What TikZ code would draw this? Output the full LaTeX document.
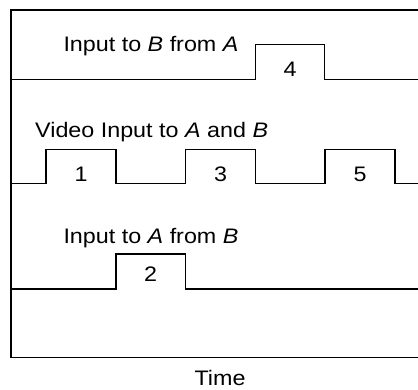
\documentclass[tikz,border=0pt]{standalone}
\usepackage{fontspec}
\setmainfont{Liberation Sans}
% lettering of the labels is slightly extended horizontally
\newcommand{\widetext}[1]{\scalebox{1.11}[1]{#1}}
\begin{document}
\begin{tikzpicture}[x=1pt,y=-1pt,
  wave/.style={line width=1.2pt,line join=miter},
  frame/.style={line width=1.2pt},
  lbl/.style={font=\fontsize{21}{24}\selectfont,inner sep=0pt,anchor=base west},
  num/.style={font=\fontsize{21}{24}\selectfont,inner sep=0pt,anchor=base}]
\useasboundingbox (0,0) rectangle (418,389);

% frame (open on the right)
\draw[frame] (418,10) -- (11,10) -- (11,357.7) -- (418,357.7);

% Input to B from A
\draw[wave] (11,79.3) -- (255.7,79.3) -- (255.7,44.3) -- (324.3,44.3) -- (324.3,79.3) -- (418,79.3);
\node[lbl] (tba) at (63.3,51.7) {\widetext{Input to \textit{B} from \textit{A}}};
\node[num] (n4) at (290,76.7) {\widetext{4}};

% Video input to A and B
\draw[wave] (11,183.3) -- (46,183.3) -- (46,149.3) -- (116,149.3) -- (116,183.3)
  -- (185.3,183.3) -- (185.3,149.3) -- (255.7,149.3) -- (255.7,183.3)
  -- (325,183.3) -- (325,149.3) -- (395,149.3) -- (395,183.3) -- (418,183.3);
\node[lbl] (vid) at (35,137) {\widetext{Video Input to \textit{A} and \textit{B}}};
\node[num] (n1) at (81,181) {\widetext{1}};
\node[num] (n3) at (220.5,181) {\widetext{3}};
\node[num] (n5) at (360,181) {\widetext{5}};

% Input to A from B
\draw[wave] (11,289) -- (116,289) -- (116,254) -- (185.3,254) -- (185.3,289) -- (418,289);
\node[lbl] (tab) at (63.3,243) {\widetext{Input to \textit{A} from \textit{B}}};
\node[num] (n2) at (150.7,281.7) {\widetext{2}};

% time axis label
\node[num] (time) at (220,385) {\widetext{Time}};
\end{tikzpicture}
\end{document}
